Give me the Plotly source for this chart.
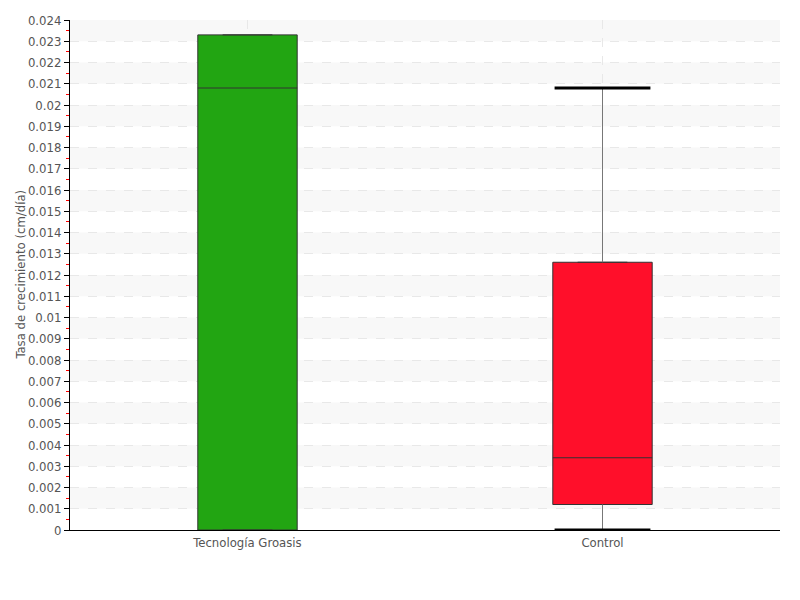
import plotly.graph_objects as go

# Box statistics (cm/día)
categories = ['Tecnología Groasis', 'Control']
q1 = [0.0, 0.0012]
median = [0.0208, 0.0034]
q3 = [0.0233, 0.0126]
whisker_low = [None, 0.0]
whisker_high = [None, 0.0208]
colors = ['#22a512', '#ff0f2a']

positions = list(range(len(categories)))
half = 0.135
font = 'Liberation Sans Narrow, DejaVu Sans Condensed, sans-serif'

fig = go.Figure()

# alternating background bands between major gridlines
for k in range(1, 24, 2):
    fig.add_shape(type='rect', xref='paper', yref='y', x0=0, x1=1,
                  y0=k * 0.001, y1=(k + 1) * 0.001,
                  fillcolor='#f8f8f8', line_width=0, layer='below')

for i, name in enumerate(categories):
    fig.add_trace(go.Box(
        x=[positions[i]], q1=[q1[i]], median=[median[i]], q3=[q3[i]],
        lowerfence=[q1[i]], upperfence=[q3[i]],
        width=0.28, fillcolor=colors[i],
        line=dict(color='#333333', width=1),
        name=name, hoverinfo='skip'))

    if whisker_high[i] is not None:
        x = positions[i]
        # whisker stems
        fig.add_trace(go.Scatter(
            x=[x, x, None, x, x],
            y=[q3[i], whisker_high[i], None, q1[i], whisker_low[i]],
            mode='lines', line=dict(color='#777777', width=1),
            hoverinfo='skip'))
        # caps
        fig.add_trace(go.Scatter(
            x=[x - half, x + half, None, x - half, x + half],
            y=[whisker_high[i], whisker_high[i], None, whisker_low[i], whisker_low[i]],
            mode='lines', line=dict(color='black', width=3),
            hoverinfo='skip'))

# y title as an annotation so it sits close to the tick labels
fig.add_annotation(text='Tasa de crecimiento (cm/día)', textangle=-90,
                   xref='paper', yref='paper', x=-0.071, y=0.5,
                   xanchor='center', yanchor='middle', showarrow=False,
                   font=dict(size=13, color='#555555'))

# the page body adds an 8px offset, so margins are shifted to compensate
fig.update_layout(
    width=800, height=600,
    margin=dict(l=62, r=28, t=12, b=78),
    plot_bgcolor='white', paper_bgcolor='white',
    showlegend=False,
    font=dict(family=font, size=13, color='#555555'),
    xaxis=dict(
        range=[-0.5, 1.5], tickvals=positions, ticktext=categories,
        automargin=False,
        showline=True, linecolor='black', linewidth=1,
        showgrid=True, gridcolor='#e8e8e8', griddash='dash', gridwidth=1,
        zeroline=False, ticks='', tickfont=dict(size=13)),
    yaxis=dict(
        range=[0, 0.024], dtick=0.001, tickformat='~g',
        automargin=False,
        showline=True, linecolor='black', linewidth=1,
        ticks='outside', ticklen=5, tickcolor='black',
        showgrid=True, gridcolor='#e8e8e8', griddash='dash', gridwidth=1,
        zeroline=False,
        minor=dict(dtick=0.0005, ticks='outside', ticklen=3, tickcolor='red', showgrid=False)),
)

fig.write_html('out.html')
